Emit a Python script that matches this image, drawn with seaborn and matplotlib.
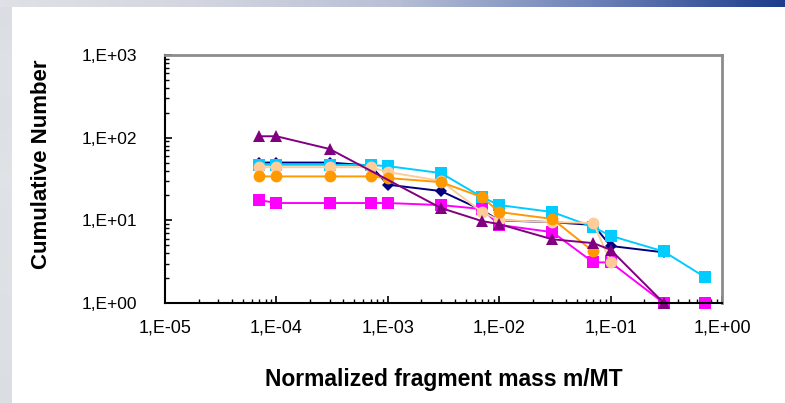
import numpy as np
import pandas as pd
import matplotlib
matplotlib.use("Agg")
import matplotlib.pyplot as plt
import matplotlib.ticker as mticker
import seaborn as sns

# normalized fragment mass m/MT
mass = [7e-5, 1e-4, 3e-4, 7e-4, 1e-3, 3e-3, 7e-3, 1e-2, 3e-2, 7e-2, 1e-1, 3e-1, 7e-1]

# cumulative number per test (nan = no point)
navy    = [50, 50, 50, 46, 27, 22.6, 13.3, 10, 9.5, 8.8, 4.9, 4.1, np.nan]
cyan    = [47, 47, 47, 46.6, 45.3, 37.3, 19.1, 15.3, 12.6, 8.3, 6.5, 4.2, 2.06]
magenta = [17.6, 16.2, 16.2, 16.2, 16.2, 15.3, 13.7, 8.8, 7.2, 3.1, 3.1, 1, 1]
peach   = [44, 44, 44, 44, 38.4, 30, 12.6, 10.1, 9.5, 9.3, 3.1, np.nan, np.nan]
orange  = [34, 34, 34, 34, 32.5, 29, 19.1, 12.6, 10.4, 4.2, np.nan, np.nan, np.nan]
purple  = [104, 104, 73, np.nan, np.nan, 14.1, 9.8, 9.0, 5.9, 5.3, 4.4, 1, np.nan]

names = ["navy", "cyan", "magenta", "peach", "orange", "purple"]
series = [navy, cyan, magenta, peach, orange, purple]
colors = {"navy": "#000080", "cyan": "#00CCFF", "peach": "#FFCC99",
          "orange": "#FF9900", "magenta": "#FF00FF", "purple": "#800080"}
marks = {"navy": "D", "cyan": "s", "peach": "o",
         "orange": "o", "magenta": "s", "purple": "^"}

df = pd.concat([pd.DataFrame({"test": n, "m": mass, "N": s}) for n, s in zip(names, series)])
df = df.dropna()

plt.rcParams["font.family"] = ["Liberation Sans", "DejaVu Sans"]

fig = plt.figure(figsize=(7.85, 4.03), dpi=100)

# slide background: gradient bar at top, grey strip at left
bg = fig.add_axes([0, 0, 1, 1], zorder=-5)
bg.set_xlim(0, 785)
bg.set_ylim(403, 0)
bg.axis("off")
grad = np.linspace(0, 1, 256)
top_cols = matplotlib.colors.LinearSegmentedColormap.from_list(
    "bar", ["#dfe1e6", "#d3d6e0", "#b9c0d6", "#6f84b8", "#1d3c8c"])
bg.imshow(grad[None, :], cmap=top_cols, extent=[0, 785, 7, 0], aspect="auto")
side = np.array([0.3, 0.6, 0.4, 0.5, 0.7, 0.4, 0.6, 0.4, 0.5, 0.3])
side_cols = matplotlib.colors.LinearSegmentedColormap.from_list("side", ["#d5d9de", "#e6e8eb"])
bg.imshow(side[:, None], cmap=side_cols, extent=[0, 12, 403, 7], aspect="auto",
          vmin=0, vmax=1, interpolation="bicubic")

ax = fig.add_axes([0.2102, 0.2481, 0.7096, 0.6154])
sns.lineplot(data=df, x="m", y="N", hue="test", style="test", hue_order=names,
             style_order=names, palette=colors, markers=marks, dashes=False,
             markersize=8.5, markeredgewidth=0, linewidth=1.4, legend=False,
             ax=ax, clip_on=False)
for ln in ax.lines:
    if ln.get_marker() == "D":
        ln.set_markersize(6.5)

ax.set_xscale("log")
ax.set_yscale("log")
ax.set_xlim(1e-5, 1)
ax.set_ylim(1, 1e3)

fmt = mticker.FuncFormatter(lambda v, p: "1,E{:+03d}".format(int(round(np.log10(v)))))
for axis in (ax.xaxis, ax.yaxis):
    axis.set_major_locator(mticker.LogLocator(base=10, numticks=10))
    axis.set_minor_locator(mticker.LogLocator(base=10, subs=np.arange(2, 10), numticks=10))
    axis.set_major_formatter(fmt)
    axis.set_minor_formatter(mticker.NullFormatter())

ax.tick_params(which="major", direction="in", length=5, width=1.2, color="black")
ax.tick_params(which="minor", direction="in", length=3, width=1.0, color="black")
ax.tick_params(axis="x", labelsize=13, pad=12)
ax.tick_params(axis="y", labelsize=12.5, pad=20)

for s in ("left", "bottom"):
    ax.spines[s].set_color("black")
    ax.spines[s].set_linewidth(1.5)
for s in ("top", "right"):
    ax.spines[s].set_color("#8c8c8c")
    ax.spines[s].set_linewidth(2)

ax.set_xlabel("Normalized fragment mass m/MT", fontsize=16.5, fontweight="bold")
ax.set_ylabel("Cumulative Number", fontsize=16, fontweight="bold")
ax.xaxis.set_label_coords(0.5, -0.262)
ax.yaxis.set_label_coords(-0.202, 0.56)

fig.savefig("out.png", dpi=100)
